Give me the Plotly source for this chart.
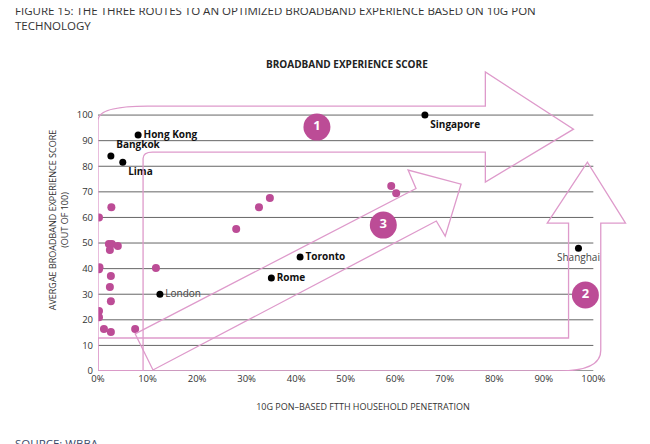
import plotly.graph_objects as go

# named cities (10G PON penetration %, experience score)
cities = ["Hong Kong", "Bangkok", "Lima", "Singapore", "Toronto", "Rome", "London", "Shanghai"]
city_x = [8.1, 2.6, 5.0, 66.0, 40.8, 35.0, 12.5, 97.0]
city_y = [92.2, 84.0, 81.6, 100.0, 44.5, 36.3, 30.0, 48.0]
city_pos = ["middle right", "top right", "bottom right", "bottom right",
            "middle right", "middle right", "middle right", "bottom center"]
bold = [True, True, True, True, True, True, False, False]

# other (unnamed) cities
other_x = [59.2, 60.2, 34.7, 32.5, 27.9, 2.7, 0.2, 2.2, 2.8, 4.0, 2.4, 0.2, 0.3, 11.7,
           2.6, 2.4, 2.6, 0.2, 0.2, 1.2, 2.6, 7.5]
other_y = [72.3, 69.5, 67.6, 64.0, 55.5, 64.0, 60.0, 49.6, 49.6, 48.8, 47.3, 39.8, 40.5, 40.2,
           37.1, 32.8, 27.3, 23.4, 21.0, 16.4, 15.2, 16.4]

# route badges
routes = ["1", "2", "3"]
route_x = [44.2, 98.4, 57.6]
route_y = [95.3, 29.7, 57.0]

y_ticks = list(range(0, 101, 10))
x_ticks = list(range(0, 101, 10))

PINK = "#BC4C96"
ARROW = "#DE9ACB"
FONT = "Open Sans"

fig = go.Figure()

fig.add_trace(go.Scatter(
    x=other_x, y=other_y, mode="markers",
    marker=dict(size=8, color=PINK), hoverinfo="skip", cliponaxis=True))

for name, x, y, pos, b in zip(cities, city_x, city_y, city_pos, bold):
    label = f"<b>{name}</b>" if b else name
    fig.add_trace(go.Scatter(
        x=[x], y=[y], mode="markers+text", text=[label], textposition=pos,
        textfont=dict(size=10, color="#111" if b else "#444", family=FONT),
        marker=dict(size=7, color="black"), cliponaxis=False))

fig.add_trace(go.Scatter(
    x=route_x, y=route_y, mode="markers+text",
    text=[f"<b>{r}</b>" for r in routes], textposition="middle center",
    textfont=dict(size=13, color="white", family=FONT),
    marker=dict(size=27, color=PINK), cliponaxis=False))

# horizontal grid lines
for t in y_ticks:
    fig.add_shape(type="line", x0=0, x1=100, y0=t, y1=t, layer="below",
                  line=dict(color="#333" if t == 0 else "#666", width=1))

# decorative route arrows (data units)
arrow1 = ("M 0,0 L 0,98 Q 0,103.5 10,103.5 L 78.2,103.5 L 78.2,116.8 L 96,94.5 "
          "L 78.2,73.8 L 78.2,85.5 L 11,85.5 Q 9.1,85.5 9.1,83 L 9.1,0 Z")
arrow2 = ("M 0,0 L 0,12.9 L 95,12.9 Q 95,12.9 95,15 L 95,57.8 L 90.7,57.8 L 98.8,81.6 "
          "L 106.5,57.8 L 101.5,57.8 L 101.5,8 Q 101.5,0 93,0 Z")
arrow3 = ("M 7.5,14.5 L 64.2,71.3 L 62.6,78.5 L 73.3,73 L 70.1,52.7 L 68.3,58.6 "
          "L 11.1,0.4 Z")
for p in (arrow1, arrow2, arrow3):
    fig.add_shape(type="path", path=p, line=dict(color=ARROW, width=1.3),
                  fillcolor="rgba(0,0,0,0)", layer="above")

fig.update_layout(
    width=650, height=444, plot_bgcolor="white", paper_bgcolor="white",
    showlegend=False, margin=dict(l=90, r=30, t=61, b=81),
    font=dict(family=FONT, size=10, color="#333"),
    xaxis=dict(range=[0, 107], tickvals=x_ticks, ticktext=[f"{t}%" for t in x_ticks],
               showgrid=False, zeroline=False, showline=False, ticks="",
               automargin=False, tickfont=dict(size=9.5, color="#333"),
               title=dict(text="10G PON–BASED FTTH HOUSEHOLD PENETRATION",
                          font=dict(size=9, color="#333"), standoff=20)),
    yaxis=dict(range=[0, 118], tickvals=y_ticks, showgrid=False, zeroline=False,
               showline=False, ticks="", automargin=False, ticklabelstandoff=4,
               tickfont=dict(size=9.5, color="#333"),
               title=dict(text="AVERGAE BROADBAND EXPERIENCE SCORE<br>(OUT OF 100)",
                          font=dict(size=9, color="#333"), standoff=6)),
    annotations=[
        dict(text="FIGURE 15: THE THREE ROUTES TO AN OPTIMIZED BROADBAND EXPERIENCE BASED ON 10G PON<br>TECHNOLOGY",
             xref="paper", yref="paper", x=-0.16, y=1.225, xanchor="left", yanchor="top",
             showarrow=False, align="left", font=dict(size=11.5, color="#333", family=FONT)),
        dict(text="<b>BROADBAND EXPERIENCE SCORE</b>", xref="paper", yref="paper",
             x=0.47, y=1.045, showarrow=False, font=dict(size=10, color="#222")),
        dict(text="SOURCE: WBBA", xref="paper", yref="paper", x=-0.16, y=-0.21,
             xanchor="left", yanchor="top", showarrow=False,
             font=dict(size=11.5, color="#3a4a6a")),
    ],
)

fig.write_html("out.html")
